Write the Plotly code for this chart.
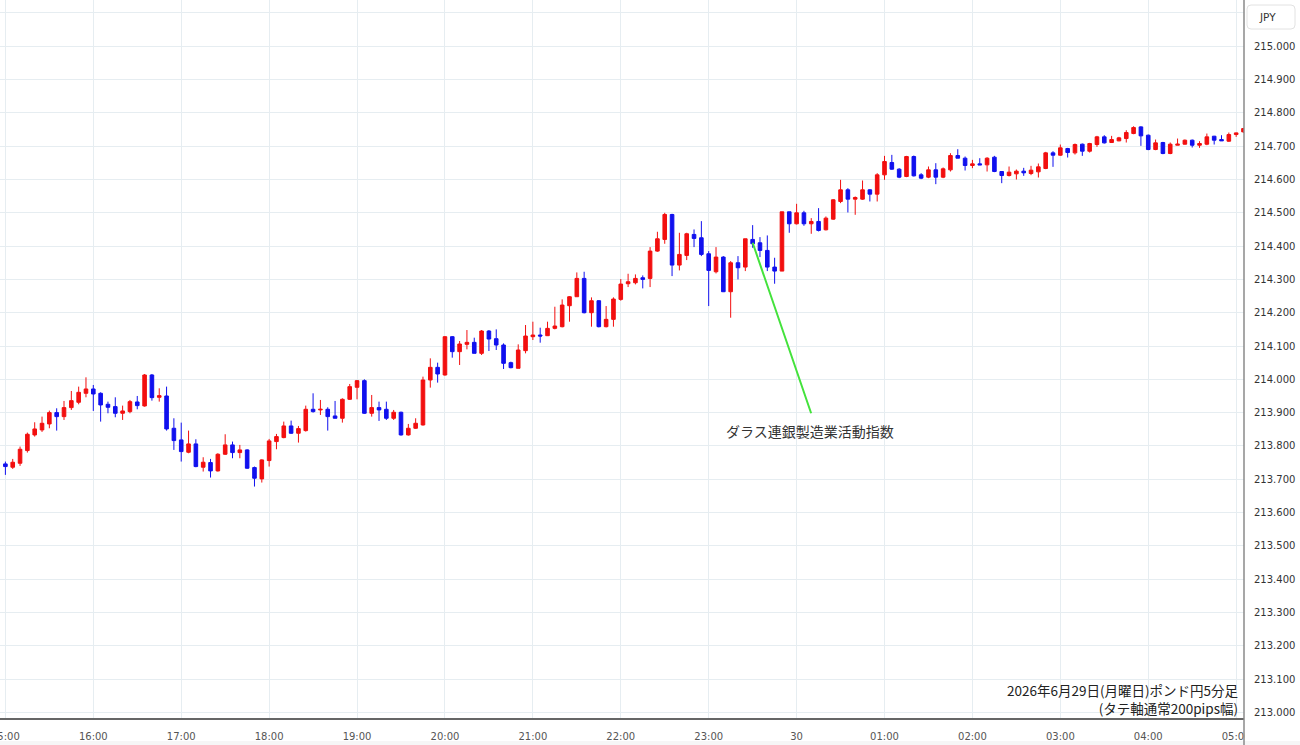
import plotly.graph_objects as go
import pandas as pd

start_time = "2026-06-29 15:00"

opens = [213.746,213.736,213.748,213.786,213.833,213.848,213.866,213.900,213.888,213.915,
213.931,213.958,213.971,213.958,213.925,213.918,213.898,213.903,213.932,213.920,
214.013,213.946,213.950,213.853,213.818,213.781,213.806,213.736,213.750,213.725,
213.775,213.803,213.780,213.788,213.735,213.701,213.756,213.813,213.825,213.860,
213.838,213.846,213.910,213.908,213.910,213.890,213.883,213.940,213.976,213.996,
213.898,213.915,213.910,213.883,213.901,213.833,213.853,213.863,213.998,214.036,
214.013,214.128,214.083,214.105,214.111,214.078,214.145,214.122,214.103,214.050,
214.033,214.086,214.128,214.133,214.131,214.153,214.158,214.221,214.248,214.303,
214.200,214.236,214.158,214.180,214.240,214.287,214.290,214.305,214.303,214.385,
214.420,214.495,214.343,214.372,214.435,214.425,214.377,214.323,214.367,214.263,
214.350,214.337,214.420,214.410,214.387,214.337,214.325,214.503,214.467,214.500,
214.467,214.474,214.449,214.481,214.534,214.569,214.541,214.541,214.569,214.556,
214.614,214.651,214.631,214.609,214.669,214.614,214.607,214.629,214.607,214.629,
214.672,214.664,214.642,214.647,214.644,214.667,214.624,214.612,214.617,214.625,
214.618,214.623,214.633,214.680,214.673,214.693,214.680,214.706,214.685,214.705,
214.728,214.711,214.716,214.723,214.738,214.758,214.733,214.690,214.711,214.678,
214.703,214.706,214.718,214.703,214.706,214.730,214.720,214.715,214.735,214.743]

highs = [213.753,213.761,213.798,213.840,213.871,213.888,213.906,213.913,213.935,213.965,
213.978,214.006,213.983,213.961,213.933,213.946,213.921,213.938,213.950,214.016,
214.016,213.973,213.978,213.883,213.870,213.846,213.820,213.766,213.761,213.778,
213.835,213.813,213.803,213.790,213.738,213.760,213.821,213.836,213.873,213.876,
213.860,213.921,213.958,213.938,213.916,213.935,213.943,213.986,213.998,214.000,
213.953,213.933,213.933,213.908,213.903,213.866,213.883,214.008,214.063,214.050,
214.130,214.130,214.115,214.148,214.125,214.148,214.148,214.150,214.108,214.053,
214.105,214.163,214.173,214.155,214.173,214.218,214.240,214.250,214.321,214.323,
214.246,214.238,214.220,214.246,214.301,214.317,214.315,214.312,214.397,214.443,
214.500,214.497,214.440,214.440,214.450,214.475,214.385,214.397,214.370,214.355,
214.370,214.422,214.463,214.427,214.432,214.365,214.503,214.503,214.527,214.506,
214.484,214.514,214.489,214.541,214.599,214.574,214.549,214.597,214.571,214.619,
214.671,214.674,214.634,214.671,214.672,214.619,214.639,214.649,214.636,214.679,
214.691,214.669,214.659,214.664,214.667,214.671,214.624,214.639,214.630,214.635,
214.641,214.648,214.683,214.685,214.705,214.695,214.708,214.708,214.710,214.731,
214.733,214.731,214.728,214.748,214.760,214.760,214.735,214.720,214.713,214.711,
214.723,214.720,214.720,214.715,214.738,214.731,214.733,214.741,214.741,214.755]

lows = [213.713,213.731,213.740,213.780,213.828,213.842,213.853,213.846,213.878,213.908,
213.925,213.946,213.905,213.873,213.898,213.886,213.878,213.898,213.910,213.918,
213.936,213.933,213.846,213.788,213.753,213.778,213.736,213.723,213.705,213.723,
213.773,213.763,213.763,213.731,213.678,213.690,213.738,213.790,213.823,213.836,
213.810,213.843,213.900,213.893,213.846,213.883,213.870,213.938,213.940,213.896,
213.888,213.875,213.878,213.878,213.831,213.831,213.851,213.861,213.975,213.990,
214.011,214.065,214.043,214.090,214.078,214.073,214.085,214.088,214.031,214.033,
214.033,214.078,214.118,214.110,214.130,214.150,214.156,214.173,214.248,214.198,
214.158,214.156,214.156,214.158,214.236,214.277,214.285,214.273,214.277,214.383,
214.407,214.310,214.327,214.358,214.397,214.370,214.220,214.318,214.262,214.185,
214.300,214.325,214.395,214.367,214.325,214.287,214.325,214.440,214.465,214.461,
214.437,214.444,214.447,214.479,214.529,214.501,214.494,214.539,214.534,214.534,
214.599,214.629,214.604,214.607,214.609,214.601,214.604,214.586,214.604,214.624,
214.664,214.627,214.634,214.644,214.624,214.622,214.589,214.609,214.600,214.611,
214.613,214.606,214.631,214.638,214.671,214.666,214.675,214.671,214.681,214.698,
214.708,214.710,214.715,214.711,214.736,214.701,214.688,214.688,214.676,214.676,
214.703,214.705,214.696,214.695,214.703,214.705,214.716,214.713,214.728,214.740]

closes = [213.738,213.751,213.790,213.835,213.851,213.868,213.900,213.888,213.915,213.936,
213.961,213.971,213.956,213.923,213.916,213.898,213.905,213.933,213.921,214.013,
213.945,213.951,213.851,213.816,213.783,213.806,213.738,213.751,213.725,213.775,
213.803,213.780,213.788,213.733,213.703,213.758,213.815,213.828,213.860,213.838,
213.852,213.910,213.903,213.910,213.888,213.883,213.940,213.978,213.996,213.898,
213.915,213.908,213.883,213.901,213.833,213.853,213.868,213.998,214.036,214.016,
214.128,214.083,214.106,214.111,214.078,214.145,214.121,214.103,214.048,214.035,
214.088,214.130,214.133,214.130,214.153,214.160,214.223,214.248,214.303,214.200,
214.236,214.158,214.180,214.241,214.286,214.293,214.303,214.300,214.385,214.422,
214.495,214.343,214.375,214.437,214.423,214.375,214.327,214.367,214.263,214.350,
214.335,214.422,214.407,214.387,214.337,214.325,214.503,214.467,214.500,214.467,
214.474,214.447,214.484,214.539,214.569,214.541,214.546,214.569,214.556,214.614,
214.654,214.631,214.607,214.669,214.611,214.604,214.629,214.607,214.632,214.672,
214.664,214.642,214.647,214.644,214.664,214.624,214.612,214.622,214.625,214.620,
214.628,214.638,214.680,214.673,214.695,214.681,214.705,214.685,214.708,214.728,
214.710,214.720,214.725,214.741,214.756,214.731,214.690,214.710,214.678,214.706,
214.706,214.718,214.703,214.708,214.728,214.718,214.716,214.735,214.740,214.753]

hour_ticks = ["2026-06-29 15:00", "2026-06-29 16:00", "2026-06-29 17:00", "2026-06-29 18:00",
              "2026-06-29 19:00", "2026-06-29 20:00", "2026-06-29 21:00", "2026-06-29 22:00",
              "2026-06-29 23:00", "2026-06-30 00:00", "2026-06-30 01:00", "2026-06-30 02:00",
              "2026-06-30 03:00", "2026-06-30 04:00", "2026-06-30 05:00"]
hour_labels = ["15:00", "16:00", "17:00", "18:00", "19:00", "20:00", "21:00", "22:00",
               "23:00", "30", "01:00", "02:00", "03:00", "04:00", "05:00"]

price_ticks = [213.0, 213.1, 213.2, 213.3, 213.4, 213.5, 213.6, 213.7, 213.8, 213.9, 214.0,
               214.1, 214.2, 214.3, 214.4, 214.5, 214.6, 214.7, 214.8, 214.9, 215.0, 215.1]
price_labels = ["213.000", "213.100", "213.200", "213.300", "213.400", "213.500", "213.600",
                "213.700", "213.800", "213.900", "214.000", "214.100", "214.200", "214.300",
                "214.400", "214.500", "214.600", "214.700", "214.800", "214.900", "215.000", ""]

event_label = "ダラス連銀製造業活動指数"
event_index = 102
event_price = 214.41
caption_text = "2026年6月29日(月曜日)ポンド円5分足<br>(タテ軸通常200pips幅)"
currency_label = "JPY"

times = pd.date_range(start_time, periods=len(opens), freq="5min")

UP = "#f20f0f"
DOWN = "#1010ee"
GRID = "#e6edf1"
TICKFONT = "DejaVu Sans, Noto Sans, sans-serif"

fig = go.Figure()
fig.add_trace(go.Candlestick(
    x=times, open=opens, high=highs, low=lows, close=closes,
    increasing=dict(line=dict(color=UP, width=1), fillcolor=UP),
    decreasing=dict(line=dict(color=DOWN, width=1), fillcolor=DOWN),
    whiskerwidth=0, showlegend=False, hoverinfo="skip",
))

W, H = 1300, 745
ML, MR, MT, MB = 0, 56, 0, 27
PW = W - ML - MR
PH = H - MT - MB

def px(xp):
    return xp / PW

def py(yp):
    return (PH - yp) / PH

fig.update_layout(
    width=W, height=H,
    margin=dict(l=ML, r=MR, t=MT, b=MB, pad=0, autoexpand=False),
    paper_bgcolor="white", plot_bgcolor="white",
    showlegend=False,
    font=dict(family=TICKFONT, size=10, color="#444"),
    xaxis=dict(
        type="date", automargin=False,
        range=["2026-06-29 14:56:19", "2026-06-30 05:05:21"],
        tickmode="array", tickvals=hour_ticks, ticktext=hour_labels,
        showgrid=True, gridcolor=GRID, gridwidth=1,
        showline=True, linecolor="#666", linewidth=2,
        ticks="outside", ticklen=8, tickcolor="rgba(0,0,0,0)",
        ticklabeloverflow="allow",
        tickfont=dict(family=TICKFONT, size=10, color="#555"),
        rangeslider=dict(visible=False), zeroline=False, fixedrange=True,
    ),
    yaxis=dict(
        side="right", automargin=False,
        range=[212.983, 215.139],
        tickmode="array", tickvals=price_ticks, ticktext=price_labels,
        showgrid=True, gridcolor=GRID, gridwidth=1,
        showline=False, ticks="outside", ticklen=7, tickcolor="rgba(0,0,0,0)",
        tickfont=dict(family=TICKFONT, size=10, color="#333"), zeroline=False, fixedrange=True,
    ),
)

shapes = [
    dict(type="rect", xref="paper", yref="paper", x0=-0.01, x1=px(W + 5), y0=py(741), y1=py(746),
         fillcolor="#f6f6f6", line=dict(width=0), layer="below"),
    dict(type="rect", xref="paper", yref="paper", x0=px(1245), x1=px(W + 5), y0=py(741), y1=py(719),
         fillcolor="white", line=dict(width=0), layer="above"),
    dict(type="line", xref="paper", yref="paper", x0=px(1244), x1=px(1244), y0=py(H), y1=py(0),
         line=dict(color="#8a8a8a", width=1.5), layer="above"),
]

x0b, x1b, y0b, y1b, r = 1247, 1295, 5, 29, 4
path = (f"M {px(x0b + r)},{py(y0b)} L {px(x1b - r)},{py(y0b)} Q {px(x1b)},{py(y0b)} {px(x1b)},{py(y0b + r)} "
        f"L {px(x1b)},{py(y1b - r)} Q {px(x1b)},{py(y1b)} {px(x1b - r)},{py(y1b)} "
        f"L {px(x0b + r)},{py(y1b)} Q {px(x0b)},{py(y1b)} {px(x0b)},{py(y1b - r)} "
        f"L {px(x0b)},{py(y0b + r)} Q {px(x0b)},{py(y0b)} {px(x0b + r)},{py(y0b)} Z")
shapes.append(dict(type="path", xref="paper", yref="paper", path=path,
                   line=dict(color="#e2e2e2", width=1), fillcolor="white", layer="above"))
fig.update_layout(shapes=shapes)

# leader line from the event candle
fig.add_annotation(x=times[event_index], y=event_price, xref="x", yref="y",
                   text="", showarrow=True, arrowhead=0, arrowwidth=2,
                   arrowcolor="#44e23c", ax=59, ay=172, standoff=0)
# event label
fig.add_annotation(x=times[event_index], y=event_price, xref="x", yref="y",
                   text=event_label, showarrow=False, xshift=57, yshift=-188,
                   font=dict(family="Noto Sans CJK JP", size=14, color="#333"))

fig.add_annotation(x=px(1241), y=py(699), xref="paper", yref="paper", xanchor="right", yanchor="middle",
                   text=caption_text, showarrow=False, align="right",
                   font=dict(family="Noto Sans CJK JP", size=13.5, color="#222"))

fig.add_annotation(x=px(1257), y=py(17), xref="paper", yref="paper", xanchor="left", yanchor="middle",
                   text=currency_label, showarrow=False,
                   font=dict(family="DejaVu Sans", size=10.5, color="#333"))

fig.write_html("out.html")
